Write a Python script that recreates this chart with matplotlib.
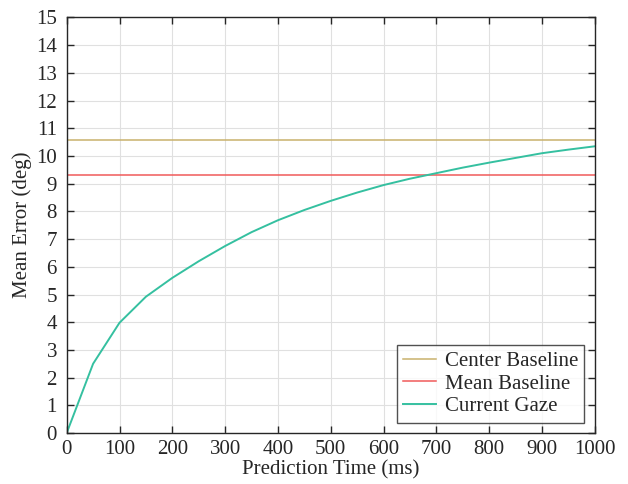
import numpy as np
import matplotlib.pyplot as plt

plt.rcParams['font.family'] = ['Liberation Serif', 'DejaVu Serif']

# data
pred_time = [0, 50, 100, 150, 200, 250, 300, 350, 400, 450, 500,
             550, 600, 650, 700, 750, 800, 850, 900, 950, 1000]
current_gaze = [0, 2.5, 3.98, 4.92, 5.6, 6.2, 6.75, 7.25, 7.68, 8.05, 8.38,
                8.68, 8.95, 9.18, 9.38, 9.58, 9.76, 9.93, 10.1, 10.23, 10.35]
center_baseline = 10.57
mean_baseline = 9.31

fig = plt.figure(figsize=(6.28, 4.84), dpi=100)
ax = fig.add_axes([66.7/628, 1-433/484, 528/628, 415.5/484])

ax.plot([0, 1000], [center_baseline, center_baseline], color='#c9b26c', lw=1.1, label='Center Baseline')
ax.plot([0, 1000], [mean_baseline, mean_baseline], color='#f05a5a', lw=1.1, label='Mean Baseline')
ax.plot(pred_time, current_gaze, color='#35c0a0', lw=1.4, label='Current Gaze')

ax.set_xlim(0, 1000)
ax.set_ylim(0, 15)
ax.set_xticks(np.arange(0, 1001, 100))
ax.set_yticks(np.arange(0, 16, 1))
ax.grid(True, color='#e0e0e0', lw=0.8)
ax.set_axisbelow(True)
ax.tick_params(direction='in', length=5, width=1, labelsize=15, top=True, right=True,
               colors='#262626', labelcolor='#262626')
ax.tick_params(axis='x', pad=5)
ax.tick_params(axis='y', pad=7)
for s in ax.spines.values():
    s.set_color('#262626')
    s.set_linewidth(1)

ax.set_xlabel('Prediction Time (ms)', fontsize=15, color='#262626', labelpad=1)
ax.set_ylabel('Mean Error (deg)', fontsize=15, color='#262626', labelpad=3)

leg = ax.legend(loc='lower right', fontsize=15, frameon=True, fancybox=False,
                edgecolor='#262626', handlelength=1.6, handletextpad=0.4,
                borderpad=0.3, labelspacing=0.15, borderaxespad=0.5)
leg.get_frame().set_linewidth(1)
for t in leg.get_texts():
    t.set_color('#262626')

fig.savefig('out.png', dpi=100)
